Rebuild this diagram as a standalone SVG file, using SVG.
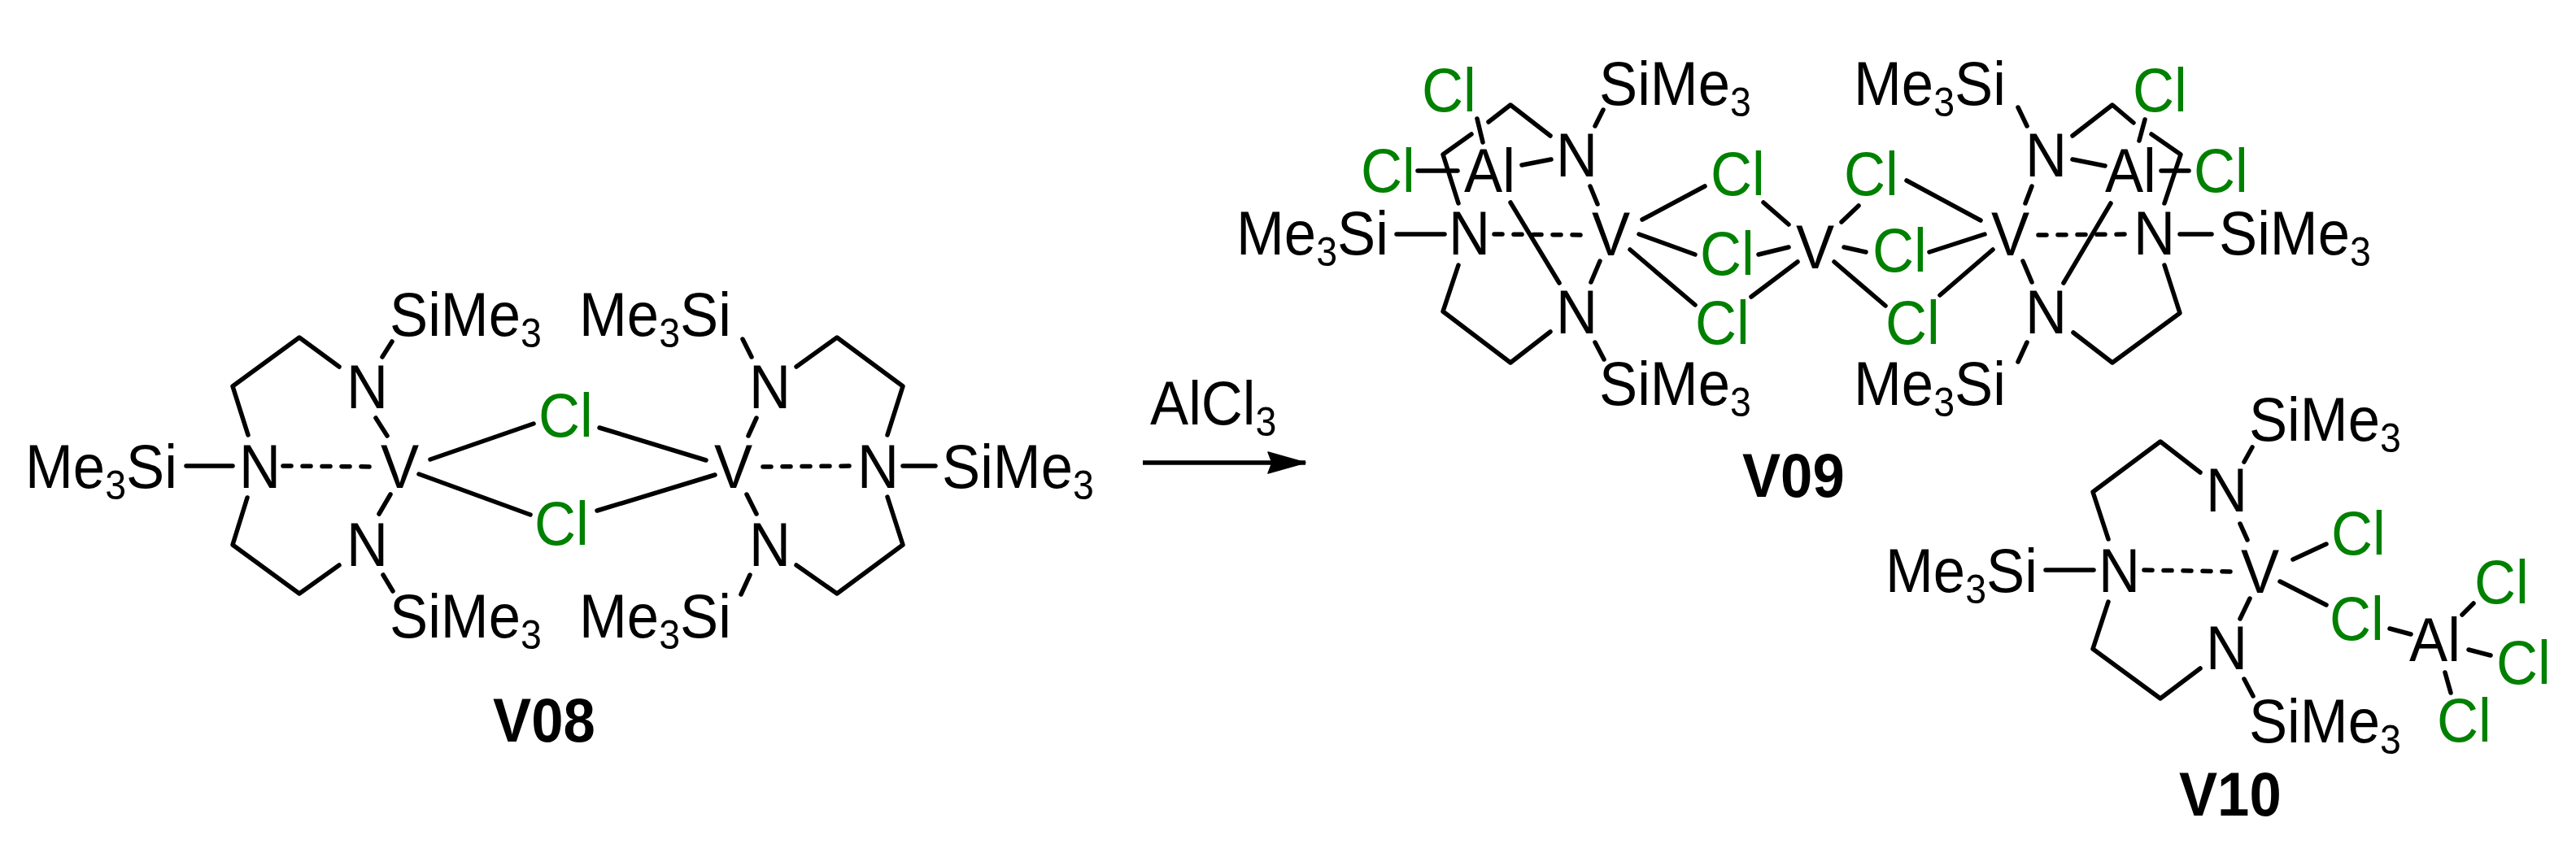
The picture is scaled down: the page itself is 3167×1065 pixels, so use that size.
<svg xmlns="http://www.w3.org/2000/svg" width="3167" height="1065" viewBox="0 0 3167 1065">
<style>
text{font-family:"Liberation Sans",Arial,sans-serif;font-size:76px;fill:#000;transform-box:fill-box;transform-origin:0 0;transform:scaleX(.93)}
.g{fill:#008000}
.b{font-weight:bold}
.s{font-size:50px}
line,polyline{stroke:#000;stroke-width:5.5;fill:none;stroke-linecap:round;stroke-linejoin:round}
.d{stroke-dasharray:10 14}
</style>
<defs>
<marker id="ah" markerUnits="userSpaceOnUse" markerWidth="48" markerHeight="30" refX="47" refY="15" orient="auto"><path d="M1 2L47 15L1 28L6 15Z" fill="#000" stroke="#000" stroke-width="1.5" stroke-linejoin="round"/></marker>
</defs>
<rect width="3167" height="1065" fill="#fff"/>
<g id="connectors">
<polyline points="305,535 286,475 368,415 417,451"/>
<polyline points="304,612 286,670 368,730 417,695"/>
<polyline points="979,451 1029,415 1110,475 1091,535"/>
<polyline points="1091,611 1110,670 1029,730 979,695"/>
<line x1="470" y1="439" x2="482" y2="420"/>
<line x1="462" y1="514" x2="476" y2="536"/>
<line x1="480" y1="608" x2="466" y2="632"/>
<line x1="471" y1="707" x2="483" y2="727"/>
<line x1="924" y1="439" x2="913" y2="417"/>
<line x1="930" y1="514" x2="920" y2="536"/>
<line x1="918" y1="608" x2="930" y2="632"/>
<line x1="922" y1="707" x2="911" y2="731"/>
<line x1="229" y1="573" x2="286" y2="573"/>
<line class="d" x1="348" y1="573" x2="460" y2="574"/>
<line class="d" x1="938" y1="574" x2="1049" y2="573"/>
<line x1="1110" y1="573" x2="1150" y2="573"/>
<line x1="529" y1="565" x2="656" y2="521"/>
<line x1="515" y1="583" x2="652" y2="633"/>
<line x1="737" y1="526" x2="868" y2="566"/>
<line x1="734" y1="628" x2="879" y2="584"/>
<line x1="1405" y1="569" x2="1605" y2="569" marker-end="url(#ah)" style="stroke-linecap:butt"/>
<line x1="1816" y1="146" x2="1823" y2="175"/>
<polyline points="1830,150 1857,129 1906,167"/>
<polyline points="1809,165 1774,190 1793,250"/>
<line x1="1743" y1="210" x2="1792" y2="210"/>
<line x1="1871" y1="203" x2="1907" y2="196"/>
<line x1="1961" y1="155" x2="1971" y2="135"/>
<line x1="1955" y1="229" x2="1964" y2="251"/>
<line x1="1857" y1="249" x2="1917" y2="348"/>
<line x1="1717" y1="288" x2="1776" y2="288"/>
<line class="d" x1="1837" y1="288" x2="1948" y2="289"/>
<line x1="1967" y1="321" x2="1956" y2="347"/>
<polyline points="1793,326 1774,383 1857,446 1906,408"/>
<line x1="1961" y1="421" x2="1972" y2="442"/>
<line x1="2019" y1="270" x2="2096" y2="229"/>
<line x1="2015" y1="288" x2="2084" y2="313"/>
<line x1="2004" y1="307" x2="2084" y2="375"/>
<line x1="2168" y1="249" x2="2199" y2="276"/>
<line x1="2162" y1="313" x2="2199" y2="304"/>
<line x1="2153" y1="365" x2="2210" y2="322"/>
<line x1="2264" y1="273" x2="2285" y2="253"/>
<line x1="2267" y1="304" x2="2294" y2="310"/>
<line x1="2255" y1="322" x2="2318" y2="376"/>
<line x1="2344" y1="222" x2="2435" y2="271"/>
<line x1="2372" y1="310" x2="2440" y2="288"/>
<line x1="2385" y1="363" x2="2450" y2="307"/>
<line x1="2490" y1="250" x2="2498" y2="229"/>
<line x1="2492" y1="155" x2="2481" y2="132"/>
<line x1="2487" y1="321" x2="2498" y2="347"/>
<line x1="2492" y1="421" x2="2481" y2="445"/>
<polyline points="2548,167 2597,129 2623,151"/>
<line x1="2637" y1="147" x2="2630" y2="173"/>
<polyline points="2645,165 2681,190 2661,250"/>
<line x1="2657" y1="210" x2="2691" y2="210"/>
<line x1="2548" y1="196" x2="2588" y2="204"/>
<line x1="2595" y1="250" x2="2537" y2="348"/>
<line class="d" x1="2506" y1="289" x2="2618" y2="288"/>
<line x1="2680" y1="288" x2="2719" y2="288"/>
<polyline points="2661,326 2680,385 2597,446 2549,409"/>
<line x1="2759" y1="568" x2="2769" y2="550"/>
<polyline points="2705,581 2656,543 2573,605 2592,663"/>
<line x1="2754" y1="644" x2="2763" y2="664"/>
<line x1="2515" y1="701" x2="2574" y2="701"/>
<line class="d" x1="2636" y1="701" x2="2746" y2="703"/>
<line x1="2819" y1="688" x2="2860" y2="669"/>
<line x1="2803" y1="715" x2="2860" y2="744"/>
<line x1="2766" y1="736" x2="2754" y2="761"/>
<polyline points="2592,740 2573,798 2656,859 2705,822"/>
<line x1="2759" y1="835" x2="2770" y2="856"/>
<line x1="2938" y1="773" x2="2964" y2="780"/>
<line x1="3027" y1="756" x2="3041" y2="742"/>
<line x1="3035" y1="799" x2="3062" y2="806"/>
<line x1="3006" y1="827" x2="3013" y2="852"/>
</g>
<g id="V08">
<text x="31" y="600">Me<tspan class="s" dy="14">3</tspan><tspan dy="-14">Si</tspan></text>
<text x="294" y="600">N</text>
<text x="468" y="600">V</text>
<text x="426" y="502">N</text>
<text x="426" y="696">N</text>
<text x="479" y="413">SiMe<tspan class="s" dy="14">3</tspan></text>
<text x="479" y="784">SiMe<tspan class="s" dy="14">3</tspan></text>
<text x="712" y="413">Me<tspan class="s" dy="14">3</tspan><tspan dy="-14">Si</tspan></text>
<text x="712" y="784">Me<tspan class="s" dy="14">3</tspan><tspan dy="-14">Si</tspan></text>
<text x="921" y="502">N</text>
<text x="921" y="696">N</text>
<text x="878" y="600">V</text>
<text x="1054" y="600">N</text>
<text x="1158" y="600">SiMe<tspan class="s" dy="14">3</tspan></text>
<text class="g" x="662" y="537">Cl</text>
<text class="g" x="657" y="670">Cl</text>
<text class="b" x="606" y="912">V08</text>
</g>
<g id="reagent"><text x="1414" y="522">AlCl<tspan class="s" dy="14">3</tspan></text></g>
<g id="V09">
<text class="g" x="1748" y="137">Cl</text>
<text x="1800" y="236">Al</text>
<text class="g" x="1673" y="236">Cl</text>
<text x="1913" y="217">N</text>
<text x="1966" y="129">SiMe<tspan class="s" dy="14">3</tspan></text>
<text x="1520" y="313">Me<tspan class="s" dy="14">3</tspan><tspan dy="-14">Si</tspan></text>
<text x="1781" y="313">N</text>
<text x="1957" y="314">V</text>
<text class="g" x="2103" y="240">Cl</text>
<text class="g" x="2090" y="338">Cl</text>
<text class="g" x="2084" y="423">Cl</text>
<text x="1913" y="410">N</text>
<text x="1966" y="498">SiMe<tspan class="s" dy="14">3</tspan></text>
<text x="2208" y="330">V</text>
<text class="g" x="2267" y="240">Cl</text>
<text class="g" x="2302" y="334">Cl</text>
<text class="g" x="2318" y="423">Cl</text>
<text x="2448" y="314">V</text>
<text x="2490" y="217">N</text>
<text x="2279" y="129">Me<tspan class="s" dy="14">3</tspan><tspan dy="-14">Si</tspan></text>
<text x="2588" y="236">Al</text>
<text class="g" x="2622" y="137">Cl</text>
<text class="g" x="2697" y="236">Cl</text>
<text x="2623" y="313">N</text>
<text x="2728" y="313">SiMe<tspan class="s" dy="14">3</tspan></text>
<text x="2490" y="410">N</text>
<text x="2279" y="498">Me<tspan class="s" dy="14">3</tspan><tspan dy="-14">Si</tspan></text>
<text class="b" x="2142" y="611">V09</text>
</g>
<g id="V10">
<text x="2318" y="728">Me<tspan class="s" dy="14">3</tspan><tspan dy="-14">Si</tspan></text>
<text x="2580" y="728">N</text>
<text x="2755" y="729">V</text>
<text x="2712" y="629">N</text>
<text x="2765" y="542">SiMe<tspan class="s" dy="14">3</tspan></text>
<text x="2712" y="823">N</text>
<text x="2765" y="913">SiMe<tspan class="s" dy="14">3</tspan></text>
<text class="g" x="2866" y="682">Cl</text>
<text class="g" x="2864" y="787">Cl</text>
<text x="2962" y="813">Al</text>
<text class="g" x="3042" y="742">Cl</text>
<text class="g" x="3069" y="841">Cl</text>
<text class="g" x="2996" y="912">Cl</text>
<text class="b" x="2679" y="1003">V10</text>
</g>
</svg>
